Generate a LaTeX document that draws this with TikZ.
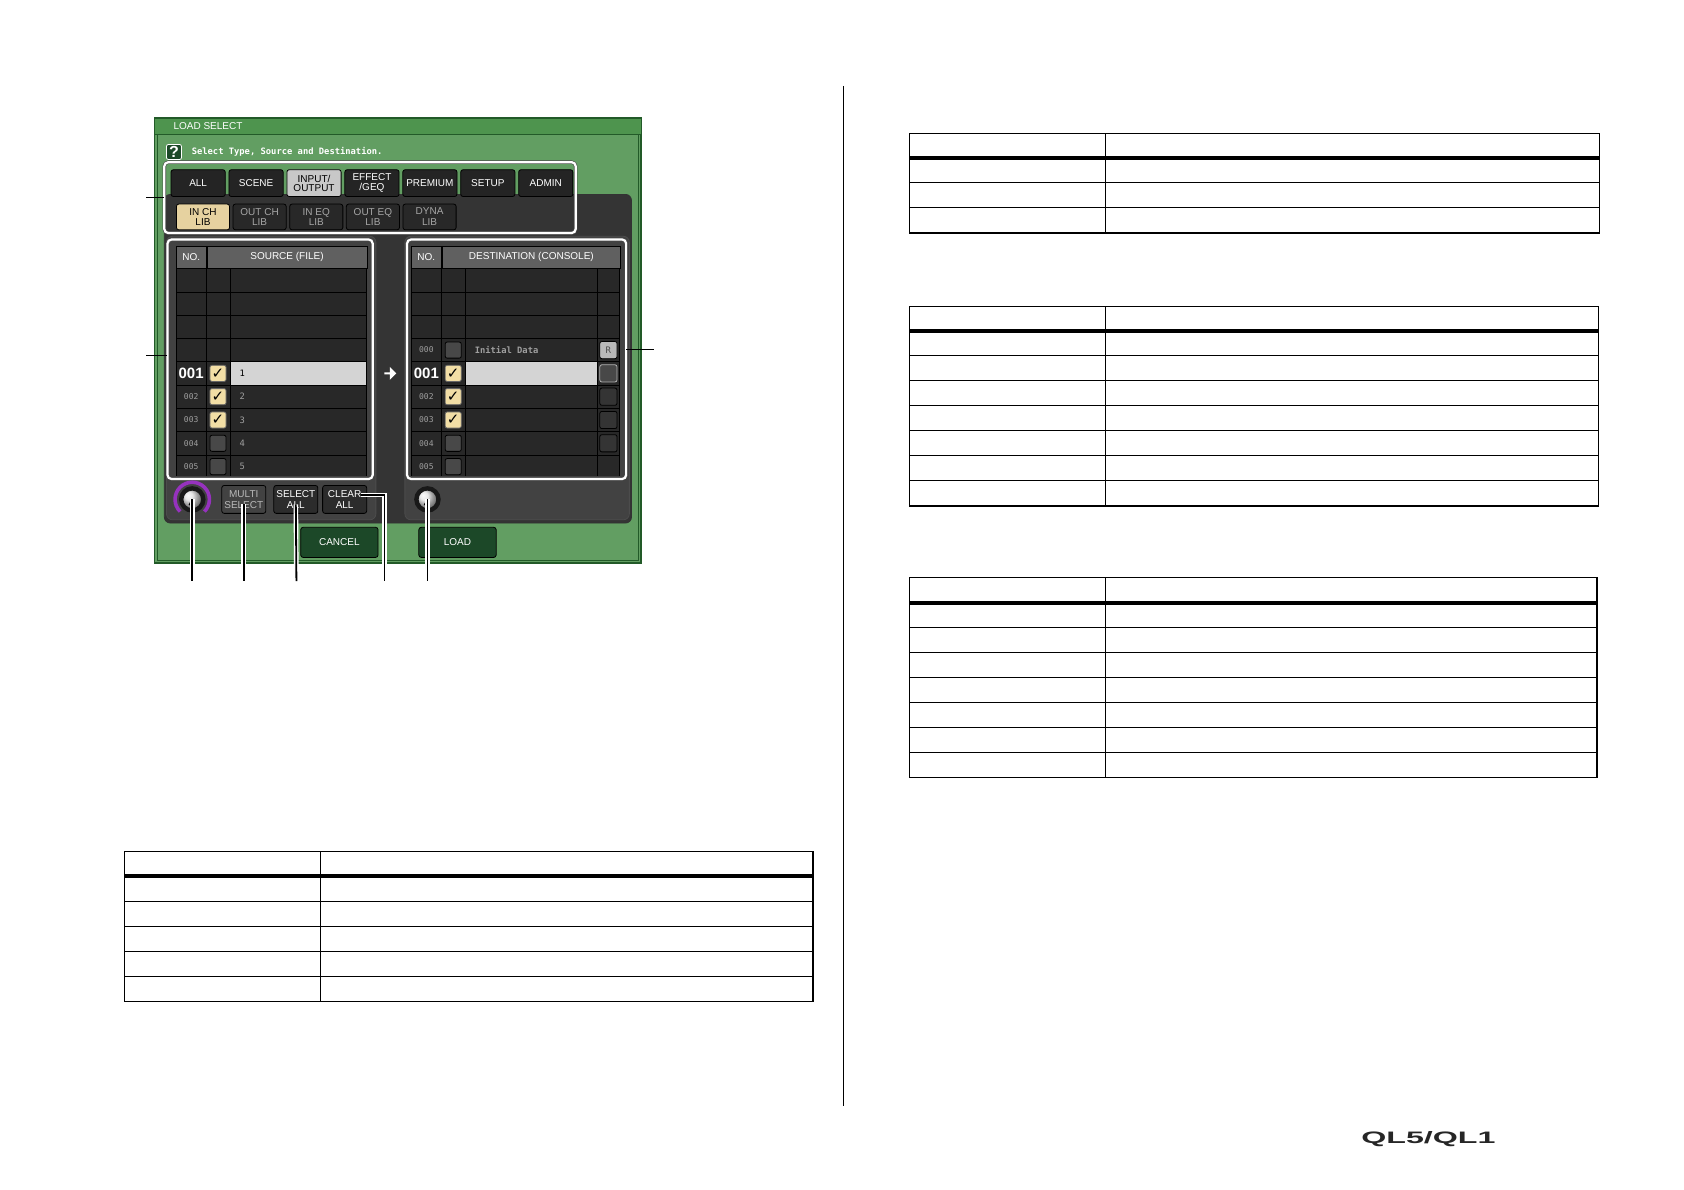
\documentclass[tikz,border=0pt]{standalone}
\usepackage{fontspec}
\usepackage{graphicx}
\setmainfont{Liberation Sans}
\setsansfont{Liberation Sans}
\setmonofont{DejaVu Sans Mono}
\newfontfamily\checkfont{DejaVu Sans}
\usetikzlibrary{positioning, calc, shapes}
\definecolor{ql_green}{RGB}{98, 158, 98}
\definecolor{ql_title}{RGB}{78, 148, 78}
\definecolor{ql_edge}{RGB}{34, 90, 40}
\definecolor{ql_dark}{RGB}{52, 52, 52}
\definecolor{ql_panel}{RGB}{66, 66, 66}
\definecolor{ql_cell}{RGB}{40, 40, 40}
\definecolor{ql_tab}{RGB}{36, 36, 36}
\definecolor{ql_head}{RGB}{96, 96, 96}
\definecolor{ql_light}{RGB}{200, 200, 200}
\definecolor{ql_tan}{RGB}{230, 210, 160}
\definecolor{ql_cream}{RGB}{242, 222, 165}
\definecolor{ql_sel}{RGB}{212, 212, 212}
\definecolor{ql_box}{RGB}{72, 72, 72}
\definecolor{ql_btn}{RGB}{28, 72, 40}
\definecolor{ql_btndark}{RGB}{44, 44, 44}
\definecolor{ql_purple}{RGB}{150, 50, 190}
\newcommand{\px}{0.537pt}
\newcommand{\uifont}{\sffamily\fontsize{5}{4.7}\selectfont}
\tikzset {
  screenbox/.style = {draw=ql_edge, line width=0.8pt, fill=ql_green},
  tab/.style = {draw=black, fill=ql_tab, text=white, rounded corners=1.2pt, minimum width=50.5*\px, minimum height=25*\px, inner sep=0pt, align=center, font=\uifont},
  tabon/.style = {tab, fill=ql_light, text=black},
  libtab/.style = {tab, fill=ql_cell, text=gray!70, minimum width=49.5*\px, minimum height=24*\px, font=\sffamily\fontsize{5}{5.4}\selectfont},
  libon/.style = {libtab, fill=ql_tan, text=black},
  selframe/.style = {draw=black!70, double=white, double distance=1.1pt, line width=0.3pt, rounded corners=2pt, inner sep=0pt},
  cell/.style = {draw=black, fill=ql_cell, minimum height=21.7*\px, inner sep=0pt, line width=0.3pt},
  head/.style = {draw=black, fill=ql_head, text=white, minimum height=21*\px, inner sep=0pt, font=\uifont},
  chkon/.style = {draw=black!60, fill=ql_cream, rounded corners=1pt, minimum size=15*\px, inner sep=0pt, font=\checkfont\bfseries\fontsize{7.5}{7.5}\selectfont},
  chkoff/.style = {chkon, fill=ql_box, draw=black},
  rbox/.style = {draw=black, fill=ql_box, rounded corners=1pt, minimum width=16*\px, minimum height=16*\px, inner sep=0pt, text=black!70, font=\ttfamily\fontsize{4.5}{4.5}\selectfont},
  num/.style = {text=gray!75, font=\ttfamily\fontsize{4}{4}\selectfont},
  numon/.style = {text=white, font=\sffamily\bfseries\fontsize{7.5}{7.5}\selectfont},
  entry/.style = {anchor=west, text=gray!75, font=\ttfamily\fontsize{4.4}{4.4}\selectfont},
  button/.style = {draw=black, fill=ql_btndark, text=white, rounded corners=1.2pt, minimum width=41*\px, minimum height=26*\px, inner sep=0pt, align=center, font=\sffamily\fontsize{5}{5.4}\selectfont},
  okbtn/.style = {button, fill=ql_btn, minimum width=72*\px, minimum height=28*\px},
  knob/.style = {circle, draw=black!90, line width=2.2pt, ball color=gray!25, minimum size=20.6*\px, inner sep=0pt},
  leader/.style = {draw=black, line width=0.9pt, preaction={draw=white, line width=2.3pt}},
  lead/.style = {draw=black, line width=0.8pt},
  tabrule/.style = {line width=0.55pt},
  headrule/.style = {line width=2pt}
}
% empty table: left, split, right, top, rows
\newcommand{\gridtable}[5]{
  \pgfmathsetmacro\tbot{#4+23+23.3*#5}
  \draw[tabrule] (#1,#4) rectangle (#3,\tbot);
  \draw[tabrule] (#2,#4) -- (#2,\tbot);
  \draw[headrule] (#1,#4+23) -- (#3,#4+23);
  \foreach \r in {1,...,#5} {
    \draw[tabrule] (#1,#4+23+23.3*\r) -- (#3,#4+23+23.3*\r);
  }
}

\begin{document}
\begin{tikzpicture}[x=\px, y=-\px]
  \useasboundingbox (0,0) rectangle (1568,1108);

  % screen
  \draw[screenbox] (144,110) rectangle (597,524);
  \fill[ql_title] (144.5,110.5) rectangle (596.5,125);
  \draw[ql_edge, line width=0.5pt] (144,125) -- (597,125);
  \draw[ql_edge, line width=0.4pt] (146.5,125) rectangle (594.5,521.5);
  \node[anchor=west, text=white, font=\uifont] (title) at (155,117.8) {LOAD SELECT};
  \node[draw=white, fill=ql_btn, text=white, rounded corners=1pt, minimum size=14*\px, inner sep=0pt, font=\sffamily\bfseries\fontsize{8}{8}\selectfont] (help) at (162,141.5) {?};
  \node[text=white, font=\ttfamily\bfseries\fontsize{4.4}{4.4}\selectfont, right=1.4pt of help] (hint) {Select Type, Source and Destination.};

  \draw[fill=ql_dark, draw=black!80, rounded corners=3pt] (153,181) rectangle (588,487);
  \draw[fill=ql_panel, draw=black!70, rounded corners=3pt] (155,220) rectangle (350,484);
  \draw[fill=ql_panel, draw=black!70, rounded corners=3pt] (377,220) rectangle (586,484);

  % type tabs
  \node[tab] (tabAll) at (184.5,170.5) {ALL};
  \node[tab, right=1.45pt of tabAll] (tabScene) {SCENE};
  \node[tabon, right=1.45pt of tabScene] (tabIO) {INPUT/\\OUTPUT};
  \node[tab, right=1.45pt of tabIO] (tabFx) {EFFECT\\/GEQ};
  \node[tab, right=1.45pt of tabFx] (tabPrem) {PREMIUM};
  \node[tab, right=1.45pt of tabPrem] (tabSetup) {SETUP};
  \node[tab, right=1.45pt of tabSetup] (tabAdmin) {ADMIN};

  \node[libon] (libInCh) at (189,202) {IN CH\\LIB};
  \node[libtab, right=1.34pt of libInCh] (libOutCh) {OUT CH\\LIB};
  \node[libtab, right=1.34pt of libOutCh] (libInEq) {IN EQ\\LIB};
  \node[libtab, right=1.34pt of libInEq] (libOutEq) {OUT EQ\\LIB};
  \node[libtab, right=1.34pt of libOutEq] (libDyna) {DYNA\\LIB};

  \node[selframe, minimum width=383*\px, minimum height=66*\px] (typeFrame) at (344.5,184) {};

  % source / destination lists
  \node[head, minimum width=28*\px] (srcNo) at (178,239.5) {NO.};
  \node[head, minimum width=149*\px, right=0pt of srcNo] (srcHead) {SOURCE (FILE)};
  \node[head, minimum width=28*\px] (dstNo) at (397,239.5) {NO.};
  \node[head, minimum width=166*\px, right=0pt of dstNo] (dstHead) {DESTINATION (CONSOLE)};

  \begin{scope}
    \clip (158,225) rectangle (345,443) (381,225) rectangle (581,443);
    \foreach \i in {0,...,8} {
      \pgfmathsetmacro\yc{260.85+21.7*\i}
      \node[cell, minimum width=28*\px] (sNo\i) at (178,\yc) {};
      \node[cell, minimum width=22*\px] (sChk\i) at (203,\yc) {};
      \node[cell, minimum width=127*\px] (sName\i) at (277.5,\yc) {};
      \node[cell, minimum width=28*\px] (dNo\i) at (397,\yc) {};
      \node[cell, minimum width=22*\px] (dChk\i) at (422,\yc) {};
      \node[cell, minimum width=123*\px] (dName\i) at (494.5,\yc) {};
      \node[cell, minimum width=21*\px] (dR\i) at (566.5,\yc) {};
    }
    \node[cell, fill=ql_sel, minimum width=127*\px] at (sName4) {};
    \node[cell, fill=ql_sel, minimum width=123*\px] at (dName4) {};
  \end{scope}

  \node[numon] at (sNo4) {001};
  \node[num] at (sNo5) {002};
  \node[num] at (sNo6) {003};
  \node[num] at (sNo7) {004};
  \node[num] at (sNo8) {005};
  \node[chkon] at (sChk4) {✓};
  \node[chkon] at (sChk5) {✓};
  \node[chkon] at (sChk6) {✓};
  \node[chkoff] at (sChk7) {};
  \node[chkoff] at (sChk8) {};
  \node[entry, text=black] at ([xshift=1.5pt]sName4.west) {1};
  \node[entry] at ([xshift=1.5pt]sName5.west) {2};
  \node[entry] at ([xshift=1.5pt]sName6.west) {3};
  \node[entry] at ([xshift=1.5pt]sName7.west) {4};
  \node[entry] at ([xshift=1.5pt]sName8.west) {5};

  \node[num] at (dNo3) {000};
  \node[numon] at (dNo4) {001};
  \node[num] at (dNo5) {002};
  \node[num] at (dNo6) {003};
  \node[num] at (dNo7) {004};
  \node[num] at (dNo8) {005};
  \node[chkoff] at (dChk3) {};
  \node[chkon] at (dChk4) {✓};
  \node[chkon] at (dChk5) {✓};
  \node[chkon] at (dChk6) {✓};
  \node[chkoff] at (dChk7) {};
  \node[chkoff] at (dChk8) {};
  \node[entry, font=\ttfamily\bfseries\fontsize{4.4}{4.4}\selectfont] at ([xshift=1.5pt]dName3.west) {Initial Data};
  \node[rbox, fill=gray!55] at (dR3) {R};
  \node[rbox, draw=gray!60] at (dR4) {};
  \node[rbox, fill=ql_dark] at (dR5) {};
  \node[rbox, fill=ql_dark] at (dR6) {};
  \node[rbox, fill=ql_dark] at (dR7) {};

  \node[selframe, minimum width=191*\px, minimum height=223*\px] (srcFrame) at (251.5,334.5) {};
  \node[selframe, minimum width=204*\px, minimum height=223*\px] (dstFrame) at (481,334.5) {};
  \node[single arrow, fill=white, minimum height=11*\px, minimum width=12*\px, single arrow head extend=1pt, inner sep=0pt] (moveArrow) at (363,347.6) {};

  % knobs and buttons
  \draw[ql_purple, line width=1.8pt] (179,465) ++(135:16) arc[start angle=135, end angle=405, radius=16];
  \node[knob] (knobL) at (179,465) {};
  \node[knob] (knobR) at (398,465) {};
  \draw[black, line width=0.7pt] (knobL.center) -- +(118:6);
  \draw[black, line width=0.7pt] (knobR.center) -- +(118:6);

  \node[button, text=gray!55, fill=ql_panel] (multiSel) at (227,465) {MULTI\\SELECT};
  \node[button, right=3.6pt of multiSel] (selAll) {SELECT\\ALL};
  \node[button, right=2pt of selAll] (clrAll) {CLEAR\\ALL};
  \node[okbtn] (cancelBtn) at (316,505) {CANCEL};
  \node[okbtn, right=20pt of cancelBtn] (loadBtn) {LOAD};

  % callouts
  \coordinate (cKnobL) at (179,541);
  \coordinate (cMulti) at (227,541);
  \coordinate (cSelAll) at (276,541);
  \coordinate (cClrAll) at (358,541);
  \coordinate (cKnobR) at (398,541);
  \draw[leader] (knobL.center) -- (cKnobL);
  \draw[leader] ([yshift=-2.5pt]multiSel.center) -- (cMulti);
  \draw[leader] ([yshift=-2.5pt]selAll.center) -- (cSelAll);
  \draw[leader] ([xshift=-3.2pt, yshift=2.2pt]clrAll.east) -| (cClrAll);
  \draw[leader] (knobR.center) -- (cKnobR);
  \draw[lead] (typeFrame.west) -- +(-17,0);
  \draw[lead] (srcFrame.178) -- +(-20,0);
  \draw[lead] (dstFrame.5) -- +(26,0);

  % page
  \draw[tabrule] (785,80) -- (785,1030);
  \gridtable{847}{1029}{1489}{124}{3}
  \gridtable{847}{1029}{1488}{285}{7}
  \gridtable{847}{1029}{1487}{538}{7}
  \gridtable{116}{298}{757}{793}{5}

  \node[text=black!85, font=\sffamily\bfseries\fontsize{8.3}{8.3}\selectfont] (logo) at (1330,1060.5) {\scalebox{1.94}[1]{QL5/QL1}};
\end{tikzpicture}
\end{document}
